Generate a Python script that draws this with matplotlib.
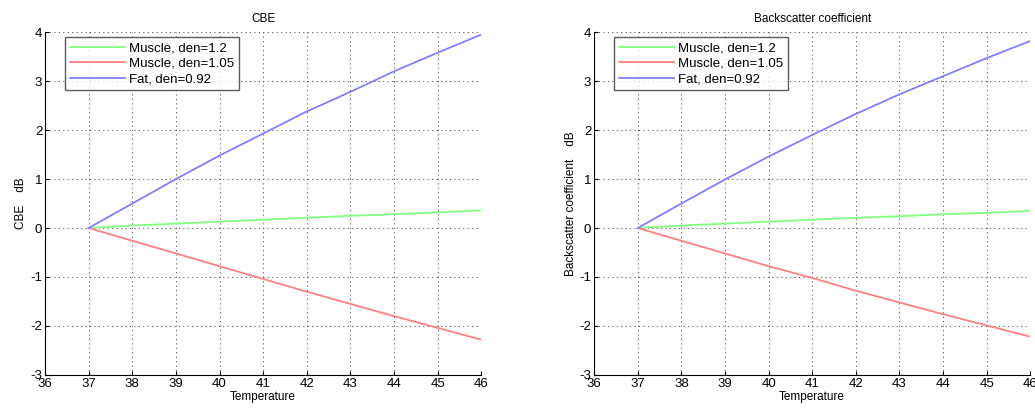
import numpy as np
import matplotlib
matplotlib.use("Agg")
from matplotlib import pyplot as plt

plt.rcParams['font.family'] = ['Liberation Sans', 'DejaVu Sans']
plt.rcParams['font.size'] = 8
plt.rcParams['axes.unicode_minus'] = False

# temperature points
temp = [37, 38, 39, 40, 41, 42, 43, 44, 45, 46]

# CBE (dB)
cbe_m12 = [0, 0.05, 0.09, 0.13, 0.17, 0.21, 0.25, 0.28, 0.32, 0.36]
cbe_m105 = [0, -0.26, -0.52, -0.78, -1.04, -1.30, -1.55, -1.80, -2.04, -2.28]
cbe_fat = [0, 0.50, 1.00, 1.48, 1.93, 2.38, 2.78, 3.20, 3.58, 3.95]

# backscatter coefficient (dB)
bsc_m12 = [0, 0.05, 0.09, 0.13, 0.17, 0.21, 0.24, 0.28, 0.31, 0.35]
bsc_m105 = [0, -0.26, -0.52, -0.78, -1.02, -1.28, -1.52, -1.76, -1.99, -2.22]
bsc_fat = [0, 0.50, 0.99, 1.46, 1.90, 2.33, 2.73, 3.10, 3.47, 3.82]

labels = ["Muscle, den=1.2", "Muscle, den=1.05", "Fat, den=0.92"]
colors = ['#80ff80', '#ff8080', '#8080ff']

fig = plt.figure(figsize=(10.35, 4.12), dpi=100)
ax1 = fig.add_axes([0.0435, 0.090, 0.4215, 0.832])
ax2 = fig.add_axes([0.574, 0.090, 0.4215, 0.832])

def draw(ax, series, title, ylabel):
    for s, c, l in zip(series, colors, labels):
        ax.plot(temp, s, color=c, lw=1.3, label=l)
    ax.set_xlim(36, 46)
    ax.set_ylim(-3, 4)
    ax.set_xticks(range(36, 47))
    ax.set_yticks(range(-3, 5))
    ax.grid(True, linestyle=(0, (1, 3)), color='#555555', lw=0.8)
    ax.spines['top'].set_visible(False)
    ax.spines['right'].set_visible(False)
    ax.tick_params(direction='in', length=3, pad=2, labelsize=9.5)
    ax.set_title(title, fontsize=8.5, pad=7)
    ax.set_xlabel("Temperature", fontsize=8.5, labelpad=1)
    ax.set_ylabel(ylabel, fontsize=8.5, labelpad=2)
    leg = ax.legend(loc='upper left', bbox_to_anchor=(0.046, 0.985), borderaxespad=0,
                    fancybox=False, edgecolor='#333333', fontsize=9.5, handlelength=4.2,
                    borderpad=0.35, labelspacing=0.25, handletextpad=0.3)
    leg.get_frame().set_linewidth(1.0)

draw(ax1, [cbe_m12, cbe_m105, cbe_fat], "CBE", "CBE    dB")
draw(ax2, [bsc_m12, bsc_m105, bsc_fat], "Backscatter coefficient", "Backscatter coefficient    dB")

fig.savefig("out.png", dpi=100)
